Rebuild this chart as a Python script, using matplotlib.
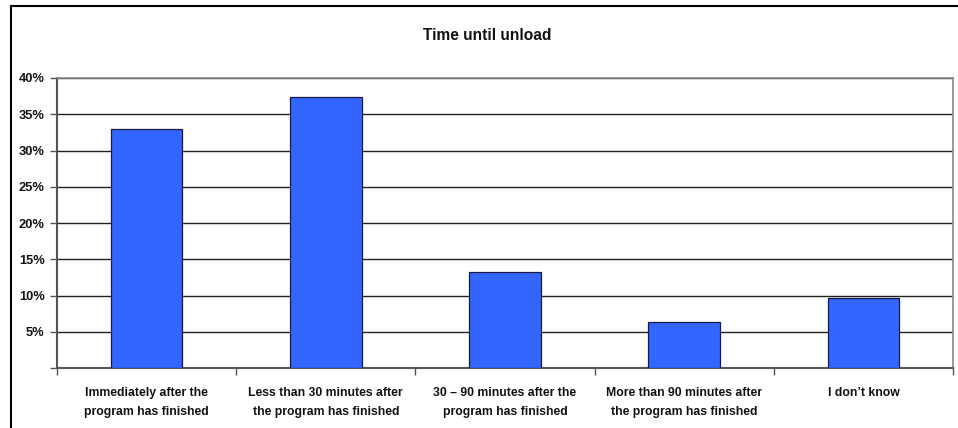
import matplotlib.pyplot as plt
from matplotlib.patches import Rectangle
from matplotlib.ticker import FuncFormatter
import numpy as np

plt.rcParams["font.family"] = ["Liberation Sans", "DejaVu Sans"]

# data
categories = [
    "Immediately after the\nprogram has finished",
    "Less than 30 minutes after\nthe program has finished",
    "30 \u2013 90 minutes after the\nprogram has finished",
    "More than 90 minutes after\nthe program has finished",
    "I don\u2019t know",
]
values = [33.0, 37.4, 13.3, 6.4, 9.7]
yticks = [0, 5, 10, 15, 20, 25, 30, 35, 40]

fig = plt.figure(figsize=(9.58, 4.28), dpi=100)
ax = fig.add_axes([57 / 958, 1 - 368 / 428, (953 - 57) / 958, (368 - 78) / 428])

# outer chart frame (only left and top visible)
fig.add_artist(Rectangle((11 / 958, -0.2), 1.2, 1.2 - 6 / 428,
                         transform=fig.transFigure, fill=False,
                         edgecolor="black", linewidth=1.5, zorder=0))

x = np.arange(len(values))
ax.bar(x, values, width=0.4, color="#3366FF", edgecolor="#1a1a40",
       linewidth=0.9, zorder=3)

ax.set_xlim(-0.5, len(values) - 0.5)
ax.set_ylim(0, 40)
ax.set_yticks(yticks)
ax.yaxis.set_major_formatter(FuncFormatter(lambda v, p: "" if v == 0 else f"{v:.0f}%"))
ax.grid(axis="y", color="#222222", linewidth=1.0, zorder=0)

# category labels between boundary ticks
ax.set_xticks(np.arange(-0.5, len(values)), minor=False)
ax.set_xticklabels([""] * (len(values) + 1))
ax.set_xticks(x, minor=True)
ax.set_xticklabels(categories, minor=True, fontsize=8.8, fontweight="bold",
                   color="#111111", linespacing=1.75)
ax.tick_params(axis="x", which="minor", length=0, pad=14)
ax.tick_params(axis="x", which="major", length=5, width=1.0, color="#555555")
ax.tick_params(axis="y", length=5, width=1.0, color="#555555", labelsize=9.3,
               labelcolor="#111111", pad=4)
for lab in ax.get_yticklabels():
    lab.set_fontweight("bold")

for s in ["top", "right"]:
    ax.spines[s].set_color("#888888")
    ax.spines[s].set_linewidth(1.2)
for s in ["left", "bottom"]:
    ax.spines[s].set_color("#555555")
    ax.spines[s].set_linewidth(1.5)

fig.text(487 / 958, 1 - 35 / 428, "Time until unload", ha="center", va="center",
         fontsize=11.2, fontweight="bold", color="#111111")

fig.savefig("out.png", dpi=100)
